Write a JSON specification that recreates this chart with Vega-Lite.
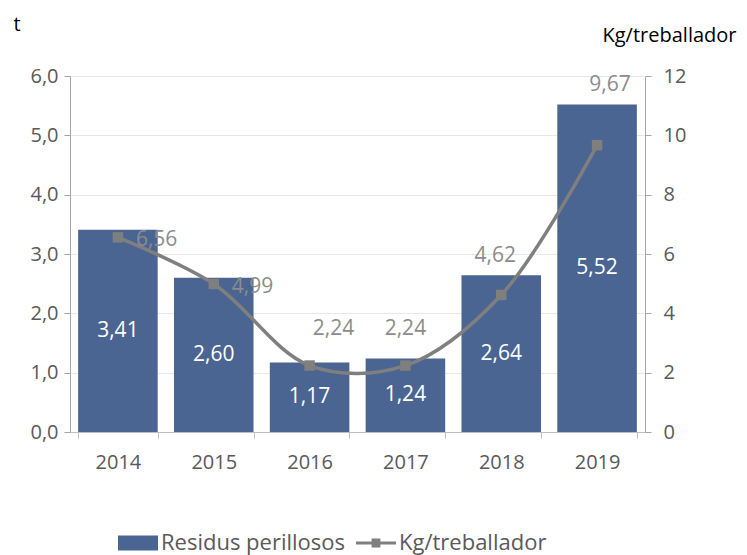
{
  "$schema": "https://vega.github.io/schema/vega-lite/v6.json",
  "width": 575,
  "height": 356,
  "autosize": {"type": "none"},
  "padding": {"left": 70, "top": 76, "right": 102, "bottom": 123},
  "background": "white",
  "config": {
    "locale": {"number": {"decimal": ",", "thousands": ".", "grouping": [3], "currency": ["", " €"]}},
    "view": {"stroke": null},
    "font": "Open Sans",
    "axis": {
      "labelFont": "Open Sans",
      "labelFontSize": 20,
      "labelColor": "#595959",
      "domainColor": "#a6a6a6",
      "tickColor": "#a6a6a6",
      "titleFont": "Open Sans",
      "titleFontSize": 20,
      "titleFontWeight": "normal",
      "titleColor": "#000000"
    },
    "text": {"font": "Open Sans"}
  },
  "data": {
    "values": [
      {"year": "2014", "residus": 3.41, "kg": 6.56},
      {"year": "2015", "residus": 2.60, "kg": 4.99},
      {"year": "2016", "residus": 1.17, "kg": 2.24},
      {"year": "2017", "residus": 1.24, "kg": 2.24},
      {"year": "2018", "residus": 2.64, "kg": 4.62},
      {"year": "2019", "residus": 5.52, "kg": 9.67}
    ]
  },
  "encoding": {
    "x": {
      "field": "year",
      "type": "ordinal",
      "scale": {"paddingInner": 0.17, "paddingOuter": 0.085},
      "axis": {"title": null, "tickBand": "extent", "labelAngle": 0, "labelPadding": 14, "tickSize": 6, "domainColor": "#bfbfbf", "tickColor": "#bfbfbf"}
    }
  },
  "layer": [
    {
      "mark": {"type": "bar"},
      "encoding": {
        "y": {
          "field": "residus",
          "type": "quantitative",
          "scale": {"domain": [0, 6]},
          "axis": {
            "values": [0, 1, 2, 3, 4, 5, 6],
            "format": ".1f",
            "grid": true,
            "gridColor": "#e8e8e8",
            "title": "t",
            "titleAngle": 0,
            "titleX": -57,
            "titleY": -52,
            "titleAlign": "left",
            "titleBaseline": "middle",
            "labelPadding": 6,
            "tickSize": 6
          }
        },
        "color": {
          "datum": "Residus perillosos",
          "scale": {"domain": ["Residus perillosos", "Kg/treballador"], "range": ["#4a6591", "#7f7f7f"]},
          "legend": {
            "orient": "none",
            "legendX": 48,
            "legendY": 447,
            "direction": "horizontal",
            "title": null,
            "labelFont": "Open Sans",
            "labelFontSize": 22,
            "labelColor": "#595959",
            "labelLimit": 400,
            "symbolSize": 1600,
            "columnPadding": 10,
            "labelOffset": 3,
            "encode": {
              "symbols": {
                "update": {
                  "shape": {"signal": "datum.value === 'Residus perillosos' ? 'M-1,-0.38H1V0.38H-1Z' : 'M-1,-0.08H1V0.08H-1ZM-0.22,-0.22H0.22V0.22H-0.22Z'"},
                  "fill": {"signal": "datum.value === 'Residus perillosos' ? '#4a6591' : '#7f7f7f'"},
                  "stroke": {"value": "transparent"},
                  "strokeWidth": {"value": 0},
                  "opacity": {"value": 1},
                  "fillOpacity": {"value": 1}
                }
              }
            }
          }
        }
      }
    },
    {
      "mark": {
        "type": "line",
        "interpolate": "catmull-rom",
        "strokeWidth": 3.5,
        "point": {"shape": "square", "size": 110, "filled": true, "opacity": 1}
      },
      "encoding": {
        "y": {
          "field": "kg",
          "type": "quantitative",
          "scale": {"domain": [0, 12]},
          "axis": {
            "orient": "right",
            "values": [0, 2, 4, 6, 8, 10, 12],
            "format": "d",
            "grid": false,
            "title": "Kg/treballador",
            "titleAngle": 0,
            "titleX": 24,
            "titleY": -41,
            "titleAlign": "center",
            "titleBaseline": "middle",
            "labelPadding": 12,
            "tickSize": 6
          }
        },
        "color": {"datum": "Kg/treballador"}
      }
    },
    {
      "mark": {"type": "text", "color": "white", "fontSize": 21, "baseline": "middle"},
      "encoding": {
        "y": {"field": "residus", "type": "quantitative", "scale": {"domain": [0, 12]}, "axis": null},
        "text": {"field": "residus", "type": "quantitative", "format": ".2f"}
      }
    },
    {
      "transform": [{"filter": {"field": "year", "oneOf": ["2014", "2015"]}}],
      "mark": {"type": "text", "color": "#8c8c8c", "fontSize": 21, "baseline": "middle", "align": "left", "dx": 18, "dy": 3},
      "encoding": {
        "y": {"field": "kg", "type": "quantitative", "scale": {"domain": [0, 12]}, "axis": null},
        "text": {"field": "kg", "type": "quantitative", "format": ".2f"}
      }
    },
    {
      "transform": [{"filter": {"field": "year", "equal": "2016"}}],
      "mark": {"type": "text", "color": "#8c8c8c", "fontSize": 21, "baseline": "middle", "dx": 24, "dy": -37},
      "encoding": {
        "y": {"field": "kg", "type": "quantitative", "scale": {"domain": [0, 12]}, "axis": null},
        "text": {"field": "kg", "type": "quantitative", "format": ".2f"}
      }
    },
    {
      "transform": [{"filter": {"field": "year", "equal": "2017"}}],
      "mark": {"type": "text", "color": "#8c8c8c", "fontSize": 21, "baseline": "middle", "dx": 0, "dy": -37},
      "encoding": {
        "y": {"field": "kg", "type": "quantitative", "scale": {"domain": [0, 12]}, "axis": null},
        "text": {"field": "kg", "type": "quantitative", "format": ".2f"}
      }
    },
    {
      "transform": [{"filter": {"field": "year", "equal": "2018"}}],
      "mark": {"type": "text", "color": "#8c8c8c", "fontSize": 21, "baseline": "middle", "dx": -6, "dy": -39},
      "encoding": {
        "y": {"field": "kg", "type": "quantitative", "scale": {"domain": [0, 12]}, "axis": null},
        "text": {"field": "kg", "type": "quantitative", "format": ".2f"}
      }
    },
    {
      "transform": [{"filter": {"field": "year", "equal": "2019"}}],
      "mark": {"type": "text", "color": "#8c8c8c", "fontSize": 21, "baseline": "middle", "dx": 13, "dy": -60},
      "encoding": {
        "y": {"field": "kg", "type": "quantitative", "scale": {"domain": [0, 12]}, "axis": null},
        "text": {"field": "kg", "type": "quantitative", "format": ".2f"}
      }
    }
  ],
  "resolve": {"scale": {"y": "independent"}, "axis": {"y": "independent"}}
}
